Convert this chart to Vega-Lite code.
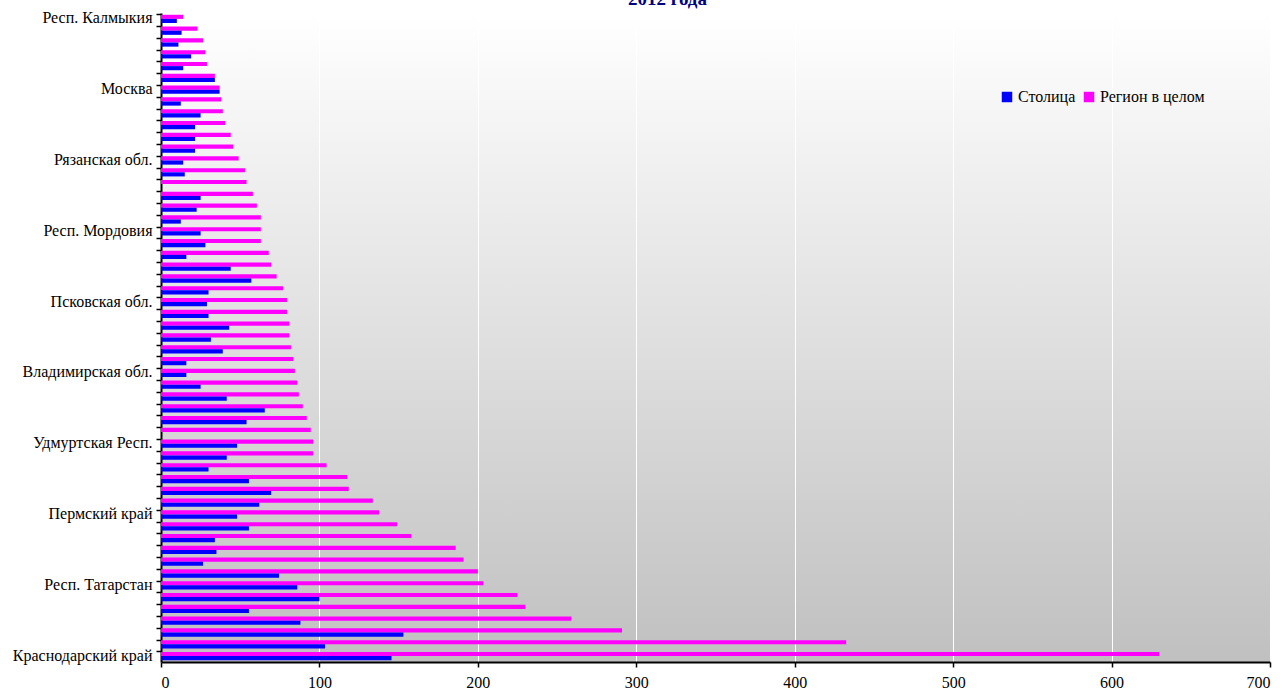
{
  "$schema": "https://vega.github.io/schema/vega-lite/v6.json",
  "autosize": "none",
  "width": 1109,
  "height": 649,
  "padding": {"left": 161, "top": 13, "right": 14, "bottom": 27},
  "background": "#ffffff",
  "title": {
    "text": "2012 года",
    "anchor": "middle",
    "dx": -48,
    "offset": 1,
    "font": "Liberation Serif",
    "fontSize": 19,
    "fontWeight": "bold",
    "color": "#000080"
  },
  "view": {
    "stroke": null,
    "fill": {
      "gradient": "linear",
      "x1": 0, "y1": 0, "x2": 0, "y2": 1,
      "stops": [
        {"offset": 0, "color": "#ffffff"},
        {"offset": 1, "color": "#c0c0c0"}
      ]
    }
  },
  "data": {
    "values": [
      {"region": "Респ. Калмыкия", "series": "Регион в целом", "value": 14},
      {"region": "Респ. Калмыкия", "series": "Столица", "value": 10},
      {"region": "#53", "series": "Регион в целом", "value": 23},
      {"region": "#53", "series": "Столица", "value": 13},
      {"region": "#52", "series": "Регион в целом", "value": 26.5},
      {"region": "#52", "series": "Столица", "value": 11},
      {"region": "#51", "series": "Регион в целом", "value": 28},
      {"region": "#51", "series": "Столица", "value": 19},
      {"region": "#50", "series": "Регион в целом", "value": 29},
      {"region": "#50", "series": "Столица", "value": 14},
      {"region": "#49", "series": "Регион в целом", "value": 34},
      {"region": "#49", "series": "Столица", "value": 34},
      {"region": "Москва", "series": "Регион в целом", "value": 37},
      {"region": "Москва", "series": "Столица", "value": 37},
      {"region": "#47", "series": "Регион в целом", "value": 38},
      {"region": "#47", "series": "Столица", "value": 12.5},
      {"region": "#46", "series": "Регион в целом", "value": 39},
      {"region": "#46", "series": "Столица", "value": 25},
      {"region": "#45", "series": "Регион в целом", "value": 40.5},
      {"region": "#45", "series": "Столица", "value": 21.5},
      {"region": "#44", "series": "Регион в целом", "value": 44},
      {"region": "#44", "series": "Столица", "value": 21.5},
      {"region": "#43", "series": "Регион в целом", "value": 45.5},
      {"region": "#43", "series": "Столица", "value": 21.5},
      {"region": "Рязанская обл.", "series": "Регион в целом", "value": 49},
      {"region": "Рязанская обл.", "series": "Столица", "value": 14},
      {"region": "#41", "series": "Регион в целом", "value": 53},
      {"region": "#41", "series": "Столица", "value": 15},
      {"region": "#40", "series": "Регион в целом", "value": 54},
      {"region": "#39", "series": "Регион в целом", "value": 58},
      {"region": "#39", "series": "Столица", "value": 25},
      {"region": "#38", "series": "Регион в целом", "value": 60.5},
      {"region": "#38", "series": "Столица", "value": 22.5},
      {"region": "#37", "series": "Регион в целом", "value": 63},
      {"region": "#37", "series": "Столица", "value": 12.5},
      {"region": "Респ. Мордовия", "series": "Регион в целом", "value": 63},
      {"region": "Респ. Мордовия", "series": "Столица", "value": 25},
      {"region": "#35", "series": "Регион в целом", "value": 63},
      {"region": "#35", "series": "Столица", "value": 28},
      {"region": "#34", "series": "Регион в целом", "value": 68},
      {"region": "#34", "series": "Столица", "value": 16},
      {"region": "#33", "series": "Регион в целом", "value": 69.5},
      {"region": "#33", "series": "Столица", "value": 44},
      {"region": "#32", "series": "Регион в целом", "value": 73},
      {"region": "#32", "series": "Столица", "value": 57},
      {"region": "#31", "series": "Регион в целом", "value": 77},
      {"region": "#31", "series": "Столица", "value": 30},
      {"region": "Псковская обл.", "series": "Регион в целом", "value": 79.5},
      {"region": "Псковская обл.", "series": "Столица", "value": 29},
      {"region": "#29", "series": "Регион в целом", "value": 79.5},
      {"region": "#29", "series": "Столица", "value": 30},
      {"region": "#28", "series": "Регион в целом", "value": 81},
      {"region": "#28", "series": "Столица", "value": 43},
      {"region": "#27", "series": "Регион в целом", "value": 81},
      {"region": "#27", "series": "Столица", "value": 31.5},
      {"region": "#26", "series": "Регион в целом", "value": 82},
      {"region": "#26", "series": "Столица", "value": 39},
      {"region": "#25", "series": "Регион в целом", "value": 83.5},
      {"region": "#25", "series": "Столица", "value": 16},
      {"region": "Владимирская обл.", "series": "Регион в целом", "value": 84.5},
      {"region": "Владимирская обл.", "series": "Столица", "value": 16},
      {"region": "#23", "series": "Регион в целом", "value": 86},
      {"region": "#23", "series": "Столица", "value": 25},
      {"region": "#22", "series": "Регион в целом", "value": 87},
      {"region": "#22", "series": "Столица", "value": 41.5},
      {"region": "#21", "series": "Регион в целом", "value": 89.5},
      {"region": "#21", "series": "Столица", "value": 65.5},
      {"region": "#20", "series": "Регион в целом", "value": 92},
      {"region": "#20", "series": "Столица", "value": 54},
      {"region": "#19", "series": "Регион в целом", "value": 94.5},
      {"region": "Удмуртская Респ.", "series": "Регион в целом", "value": 96},
      {"region": "Удмуртская Респ.", "series": "Столица", "value": 48},
      {"region": "#17", "series": "Регион в целом", "value": 96},
      {"region": "#17", "series": "Столица", "value": 41.5},
      {"region": "#16", "series": "Регион в целом", "value": 104.5},
      {"region": "#16", "series": "Столица", "value": 30},
      {"region": "#15", "series": "Регион в целом", "value": 117.5},
      {"region": "#15", "series": "Столица", "value": 55.5},
      {"region": "#14", "series": "Регион в целом", "value": 118.5},
      {"region": "#14", "series": "Столица", "value": 69.5},
      {"region": "#13", "series": "Регион в целом", "value": 133.7},
      {"region": "#13", "series": "Столица", "value": 62},
      {"region": "Пермский край", "series": "Регион в целом", "value": 137.7},
      {"region": "Пермский край", "series": "Столица", "value": 48},
      {"region": "#11", "series": "Регион в целом", "value": 149},
      {"region": "#11", "series": "Столица", "value": 55.5},
      {"region": "#10", "series": "Регион в целом", "value": 158},
      {"region": "#10", "series": "Столица", "value": 34},
      {"region": "#9", "series": "Регион в целом", "value": 186},
      {"region": "#9", "series": "Столица", "value": 35},
      {"region": "#8", "series": "Регион в целом", "value": 191},
      {"region": "#8", "series": "Столица", "value": 26.5},
      {"region": "#7", "series": "Регион в целом", "value": 200},
      {"region": "#7", "series": "Столица", "value": 74.5},
      {"region": "Респ. Татарстан", "series": "Регион в целом", "value": 203.5},
      {"region": "Респ. Татарстан", "series": "Столица", "value": 86},
      {"region": "#5", "series": "Регион в целом", "value": 225},
      {"region": "#5", "series": "Столица", "value": 100},
      {"region": "#4", "series": "Регион в целом", "value": 230},
      {"region": "#4", "series": "Столица", "value": 55.5},
      {"region": "#3", "series": "Регион в целом", "value": 259},
      {"region": "#3", "series": "Столица", "value": 88},
      {"region": "#2", "series": "Регион в целом", "value": 291},
      {"region": "#2", "series": "Столица", "value": 153},
      {"region": "#1", "series": "Регион в целом", "value": 432.5},
      {"region": "#1", "series": "Столица", "value": 103.5},
      {"region": "Краснодарский край", "series": "Регион в целом", "value": 630},
      {"region": "Краснодарский край", "series": "Столица", "value": 145.5}
    ]
  },
  "mark": {"type": "bar"},
  "encoding": {
    "y": {
      "field": "region",
      "type": "nominal",
      "sort": null,
      "scale": {"paddingInner": 0.3, "paddingOuter": 0.15},
      "axis": {
        "title": null,
        "labelExpr": "indexof(datum.label, '#') === 0 ? '' : datum.label",
        "labelFont": "Liberation Serif",
        "labelFontSize": 16,
        "labelColor": "#000000",
        "labelPadding": 4,
        "bandPosition": 0,
        "labelOffset": -0.5,
        "tickColor": "#000000",
        "tickSize": 5,
        "tickWidth": 1.5,
        "domainColor": "#000000",
        "domainWidth": 2,
        "grid": false
      }
    },
    "yOffset": {
      "field": "series",
      "type": "nominal",
      "sort": ["Регион в целом", "Столица"]
    },
    "x": {
      "field": "value",
      "type": "quantitative",
      "scale": {"domain": [0, 700], "nice": false},
      "axis": {
        "title": null,
        "values": [0, 100, 200, 300, 400, 500, 600, 700],
        "labelFont": "Liberation Serif",
        "labelFontSize": 16,
        "labelColor": "#000000",
        "labelPadding": 7,
        "tickColor": "#000000",
        "tickSize": 5,
        "tickWidth": 1.5,
        "domainColor": "#000000",
        "domainWidth": 2,
        "grid": true,
        "gridColor": "#ffffff",
        "gridWidth": 1,
        "gridOpacity": 1
      }
    },
    "color": {
      "field": "series",
      "type": "nominal",
      "scale": {"domain": ["Столица", "Регион в целом"], "range": ["#0000ff", "#ff00ff"]},
      "legend": {
        "title": null,
        "orient": "none",
        "legendX": 838,
        "legendY": 76,
        "direction": "horizontal",
        "symbolType": "square",
        "symbolSize": 110,
        "symbolStrokeWidth": 0,
        "labelOffset": 3,
        "columnPadding": 5,
        "labelFont": "Liberation Serif",
        "labelFontSize": 16,
        "labelColor": "#000000"
      }
    }
  }
}
